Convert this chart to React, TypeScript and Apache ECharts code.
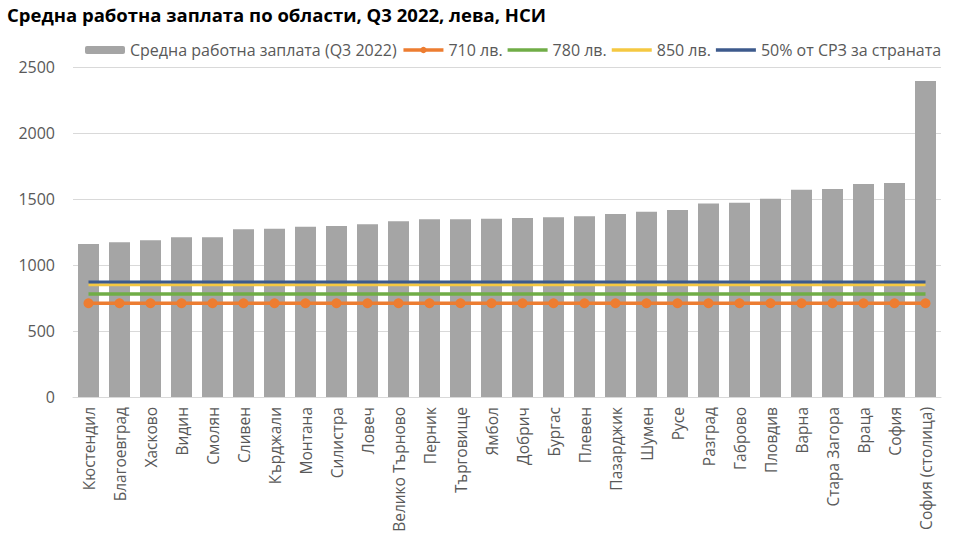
import React, { useEffect, useRef } from "react";
import * as echarts from "echarts";

const categories = [
  "Кюстендил", "Благоевград", "Хасково", "Видин", "Смолян", "Сливен", "Кърджали",
  "Монтана", "Силистра", "Ловеч", "Велико Търново", "Перник", "Търговище", "Ямбол",
  "Добрич", "Бургас", "Плевен", "Пазарджик", "Шумен", "Русе", "Разград", "Габрово",
  "Пловдив", "Варна", "Стара Загора", "Враца", "София", "София (столица)",
];

const wages = [
  1159, 1172, 1187, 1210, 1210, 1270, 1275, 1290, 1295, 1308, 1331, 1346, 1346, 1350,
  1356, 1361, 1369, 1386, 1404, 1417, 1465, 1472, 1502, 1571, 1576, 1614, 1621, 2394,
];

const seriesNames = [
  "Средна работна заплата (Q3 2022)",
  "710 лв.",
  "780 лв.",
  "850 лв.",
  "50% от СРЗ за страната",
];

const thresholdValues = [710, 780, 850, 872];

const yTicks = { min: 0, max: 2500, interval: 500 };

const FONT = "'Open Sans', 'Noto Sans', sans-serif";

export default function App() {
  const ref = useRef<HTMLDivElement>(null);

  useEffect(() => {
    if (!ref.current) return;
    const chart = echarts.init(ref.current, undefined, { renderer: "svg" });
    const lineColors = ["#ED7D31", "#70AD47", "#F5C842", "#3D5A8C"];
    const lineWidths = [3.5, 3.5, 3, 3];
    const lineIcon = "path://M0,0L40,0L40,3.5L0,3.5Z";

    const lineSeries = thresholdValues.map((v, i) => ({
      name: seriesNames[i + 1],
      type: "line",
      data: categories.map(() => v),
      symbol: i === 0 ? "circle" : "none",
      symbolSize: i === 0 ? 10 : 0,
      showSymbol: i === 0,
      lineStyle: { color: lineColors[i], width: lineWidths[i] },
      itemStyle: { color: lineColors[i] },
      z: 3 + i,
    }));

    chart.setOption({
      animation: false,
      backgroundColor: "#ffffff",
      title: {
        text: "Средна работна заплата по области, Q3 2022, лева, НСИ",
        left: 2,
        top: 0,
        textStyle: { fontFamily: FONT, fontSize: 18.5, fontWeight: "bold", color: "#000000" },
      },
      legend: {
        left: 80,
        top: 37,
        itemWidth: 40,
        itemHeight: 8,
        itemGap: 5,
        symbolKeepAspect: true,
        textStyle: { fontFamily: FONT, fontSize: 16, color: "#595959" },
        data: [
          { name: seriesNames[0] },
          { name: seriesNames[1], lineStyle: { width: 3.5, color: lineColors[0] } },
          { name: seriesNames[2], icon: lineIcon, itemStyle: { color: lineColors[1] } },
          { name: seriesNames[3], icon: lineIcon, itemStyle: { color: lineColors[2] } },
          { name: seriesNames[4], icon: lineIcon, itemStyle: { color: lineColors[3] } },
        ],
      },
      grid: { left: 73, right: 19, top: 67, bottom: 143, containLabel: false },
      xAxis: {
        type: "category",
        data: categories,
        axisTick: { show: false },
        axisLine: { lineStyle: { color: "#D9D9D9", width: 1 } },
        axisLabel: {
          rotate: 90,
          interval: 0,
          fontFamily: FONT,
          fontSize: 15.5,
          color: "#595959",
          margin: 10,
        },
      },
      yAxis: {
        type: "value",
        min: yTicks.min,
        max: yTicks.max,
        interval: yTicks.interval,
        axisLine: { show: false },
        axisTick: { show: false },
        splitLine: { lineStyle: { color: "#D9D9D9", width: 1 } },
        axisLabel: {
          fontFamily: FONT,
          fontSize: 16,
          color: "#595959",
          margin: 18,
          formatter: (v: number) => String(v),
        },
      },
      series: [
        {
          name: seriesNames[0],
          type: "bar",
          data: wages,
          barWidth: 21,
          itemStyle: { color: "#A5A5A5" },
          z: 2,
        },
        ...lineSeries,
      ],
    });
    return () => chart.dispose();
  }, []);

  return (
    <div
      ref={ref}
      style={{ position: "fixed", left: 0, top: 0, width: 960, height: 540 }}
    />
  );
}
